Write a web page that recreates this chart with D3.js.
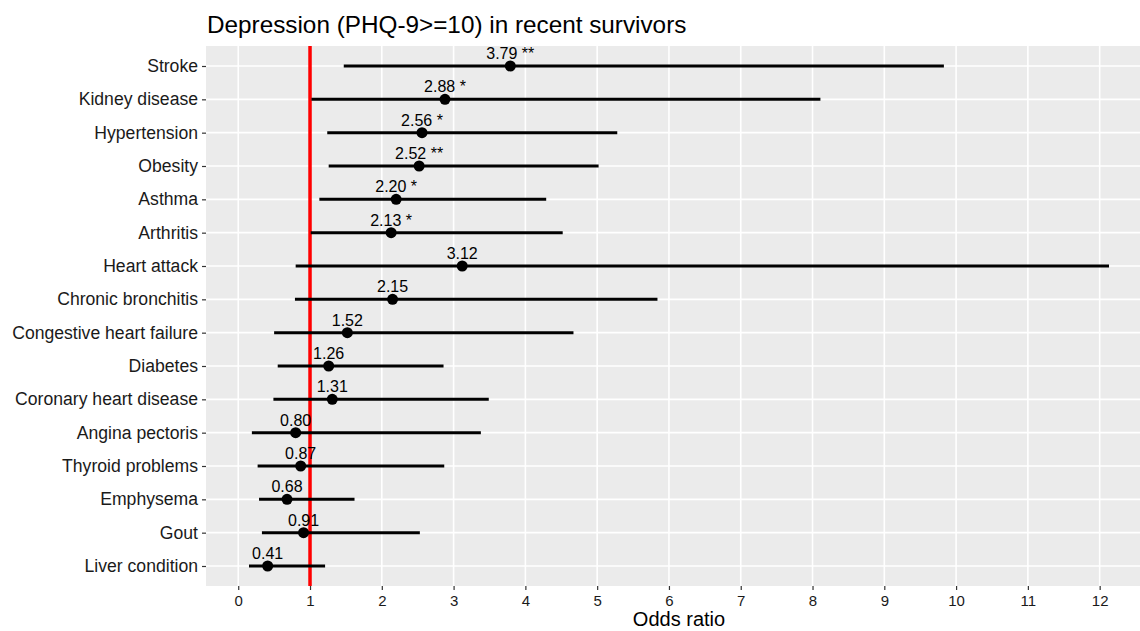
<!DOCTYPE html>
<html>
<head>
<meta charset="utf-8">
<script src="https://cdn.jsdelivr.net/npm/d3@7"></script>
<style>
  body { margin: 0; background: #fff; }
  text { font-family: "Liberation Sans", Arial, sans-serif; }
</style>
</head>
<body>
<svg id="chart" width="1140" height="631"></svg>
<script>
// conditions, top to bottom
var conditions = ["Stroke", "Kidney disease", "Hypertension", "Obesity", "Asthma", "Arthritis",
    "Heart attack", "Chronic bronchitis", "Congestive heart failure", "Diabetes",
    "Coronary heart disease", "Angina pectoris", "Thyroid problems", "Emphysema", "Gout", "Liver condition"];
var oddsRatio = [3.79, 2.88, 2.56, 2.52, 2.20, 2.13, 3.12, 2.15, 1.52, 1.26, 1.31, 0.80, 0.87, 0.68, 0.91, 0.41];
var lowerCI = [1.47, 1.02, 1.24, 1.26, 1.13, 1.01, 0.80, 0.79, 0.50, 0.55, 0.49, 0.19, 0.27, 0.29, 0.33, 0.15];
var upperCI = [9.83, 8.11, 5.28, 5.02, 4.29, 4.52, 12.13, 5.84, 4.67, 2.86, 3.49, 3.38, 2.87, 1.62, 2.53, 1.21];
var stars = ["**", "*", "*", "**", "*", "*", "", "", "", "", "", "", "", "", "", ""];
var xTicks = [0, 1, 2, 3, 4, 5, 6, 7, 8, 9, 10, 11, 12];
var refLine = 1;

var svg = d3.select("#chart");
var panelLeft = 206, panelTop = 46, panelBottom = 586;
// panel runs a bit past the right edge of the picture
var panelRight = 1152;

var data = conditions.map(function (c, i) {
    return { name: c, or: oddsRatio[i], lo: lowerCI[i], hi: upperCI[i], star: stars[i] };
});

// ggplot style 5% expansion
var xmin = d3.min(lowerCI), xmax = d3.max(upperCI);
var pad = (xmax - xmin) * 0.05;
var x = d3.scaleLinear().domain([xmin - pad, xmax + pad]).range([panelLeft, panelRight]);

var y = d3.scalePoint().domain(conditions).range([panelTop, panelBottom]).padding(0.6);

// panel background
svg.append("rect")
    .attr("x", panelLeft).attr("y", panelTop)
    .attr("width", panelRight - panelLeft).attr("height", panelBottom - panelTop)
    .attr("fill", "#EBEBEB");

// grid
svg.append("g").selectAll("line").data(xTicks).enter().append("line")
    .attr("x1", function (d) { return x(d) }).attr("x2", function (d) { return x(d) })
    .attr("y1", panelTop).attr("y2", panelBottom)
    .attr("stroke", "#fff").attr("stroke-width", 1.6);
svg.append("g").selectAll("line").data(conditions).enter().append("line")
    .attr("x1", panelLeft).attr("x2", panelRight)
    .attr("y1", function (d) { return y(d) }).attr("y2", function (d) { return y(d) })
    .attr("stroke", "#fff").attr("stroke-width", 1.6);

// reference line at OR = 1
svg.append("line")
    .attr("x1", x(refLine)).attr("x2", x(refLine))
    .attr("y1", panelTop).attr("y2", panelBottom)
    .attr("stroke", "#FF0000").attr("stroke-width", 3.5);

// confidence intervals
svg.append("g").selectAll("line").data(data).enter().append("line")
    .attr("x1", function (d) { return x(d.lo) }).attr("x2", function (d) { return x(d.hi) })
    .attr("y1", function (d) { return y(d.name) }).attr("y2", function (d) { return y(d.name) })
    .attr("stroke", "#000").attr("stroke-width", 3);

// points
svg.append("g").selectAll("circle").data(data).enter().append("circle")
    .attr("cx", function (d) { return x(d.or) })
    .attr("cy", function (d) { return y(d.name) })
    .attr("r", 5.5)
    .attr("fill", "#000");

// value labels
svg.append("g").selectAll("text").data(data).enter().append("text")
    .attr("x", function (d) { return x(d.or) })
    .attr("y", function (d) { return y(d.name) - 7 })
    .attr("text-anchor", "middle")
    .style("font-size", "16px")
    .attr("fill", "#000")
    .text(function (d) { return d.or.toFixed(2) + (d.star ? " " + d.star : "") });

// axes
var xAxis = svg.append("g")
    .attr("transform", "translate(0," + panelBottom + ")")
    .call(d3.axisBottom(x).tickValues(xTicks).tickSize(4).tickPadding(5).tickFormat(d3.format("d")));
xAxis.select(".domain").remove();
xAxis.selectAll(".tick line").attr("stroke", "#333").attr("stroke-width", 1.2);
xAxis.selectAll("text").style("font-size", "15px").attr("fill", "#1a1a1a");

var yAxis = svg.append("g")
    .attr("transform", "translate(" + panelLeft + ",0)")
    .call(d3.axisLeft(y).tickSize(4).tickPadding(4));
yAxis.select(".domain").remove();
yAxis.selectAll(".tick line").attr("stroke", "#333").attr("stroke-width", 1.2);
yAxis.selectAll("text").style("font-size", "17.6px").attr("fill", "#1a1a1a");

// titles
svg.append("text")
    .attr("x", (panelLeft + panelRight) / 2).attr("y", 626)
    .attr("text-anchor", "middle")
    .style("font-size", "20px")
    .attr("fill", "#000")
    .text("Odds ratio");

svg.append("text")
    .attr("x", 207).attr("y", 33)
    .style("font-size", "24.3px")
    .attr("fill", "#000")
    .text("Depression (PHQ-9>=10) in recent survivors");
</script>
</body>
</html>
